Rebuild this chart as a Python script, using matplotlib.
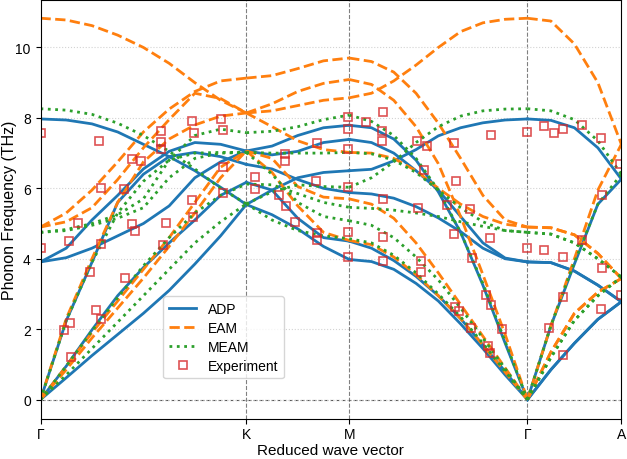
import numpy as np
import matplotlib
matplotlib.use('Agg')
import matplotlib.pyplot as plt

plt.rcParams['font.family'] = ['Liberation Sans', 'DejaVu Sans']

# path Γ-K-M-Γ-A (distance along path)
point_labels = ['Γ', 'K', 'M', 'Γ', 'A']
point_pos = [0.0, 0.6667, 1.0, 1.5774, 1.8816]

# ---- ADP (THz), one list of branches per path segment ----
adp_gk = [
    [0, 0.62, 1.25, 1.85, 2.45, 3.1, 3.85, 4.65, 5.54],
    [0, 0.95, 1.98, 2.95, 3.75, 4.45, 5.1, 5.8, 6.17],
    [0, 2.24, 3.9, 5.6, 6.4, 6.9, 7.02, 6.9, 6.68],
    [3.91, 4.03, 4.3, 4.65, 5.0, 5.5, 6.3, 6.75, 7.06],
    [3.91, 4.3, 5.1, 5.8, 6.55, 7.05, 7.3, 7.25, 7.06],
    [7.97, 7.94, 7.83, 7.6, 7.25, 6.9, 6.5, 6.03, 5.54],
]
adp_km = [
    [7.06, 7.2, 7.5, 7.72, 7.79],
    [7.06, 6.95, 7.05, 7.3, 7.39],
    [6.68, 6.55, 6.25, 6.0, 5.88],
    [5.54, 5.95, 6.3, 6.45, 6.5],
    [6.17, 5.95, 5.15, 4.6, 4.5],
    [5.54, 5.25, 4.85, 4.35, 3.98],
]
adp_mg = [
    [6.5, 6.54, 6.78, 7.1, 7.49, 7.72, 7.86, 7.94, 7.97],
    [7.79, 7.72, 7.4, 6.8, 5.9, 4.75, 3.25, 1.6, 0],
    [7.39, 7.3, 7.0, 6.5, 5.95, 5.2, 4.45, 4.02, 3.91],
    [5.88, 5.84, 5.72, 5.48, 5.16, 4.77, 4.3, 4.0, 3.91],
    [4.5, 4.3, 3.95, 3.5, 2.95, 2.3, 1.55, 0.8, 0],
    [3.98, 3.92, 3.7, 3.3, 2.8, 2.15, 1.45, 0.7, 0],
]
adp_ga = [
    [7.97, 7.93, 7.72, 7.15, 6.26],
    [3.91, 3.89, 3.65, 3.25, 2.78],
    [3.91, 3.89, 3.65, 3.25, 2.78],
    [0, 2.1, 3.85, 5.55, 6.26],
    [0, 0.85, 1.6, 2.28, 2.78],
    [0, 0.85, 1.6, 2.28, 2.78],
]

# ---- EAM ----
eam_gk = [
    [0, 0.85, 1.75, 2.6, 3.45, 4.35, 5.3, 6.3, 7.06],
    [0, 0.95, 1.9, 2.8, 3.7, 4.6, 5.6, 6.6, 7.06],
    [0, 2.3, 4.0, 5.6, 6.75, 7.4, 7.8, 8.05, 8.14],
    [4.9, 5.05, 5.45, 6.25, 7.15, 7.95, 8.7, 8.55, 8.14],
    [4.9, 5.3, 5.95, 6.75, 7.6, 8.25, 8.75, 9.05, 9.13],
    [10.83, 10.78, 10.62, 10.35, 10.0, 9.55, 9.0, 8.5, 8.14],
]
eam_km = [
    [9.13, 9.2, 9.4, 9.62, 9.7],
    [8.14, 8.4, 8.75, 8.98, 9.09],
    [8.14, 8.2, 8.35, 8.5, 8.57],
    [8.14, 7.75, 7.35, 7.1, 7.02],
    [7.06, 6.85, 6.05, 5.75, 5.7],
    [7.06, 6.45, 5.5, 4.75, 4.52],
]
eam_mg = [
    [8.57, 8.7, 9.05, 9.5, 10.0, 10.45, 10.7, 10.8, 10.83],
    [9.7, 9.6, 9.3, 8.7, 7.85, 6.85, 5.8, 5.1, 4.9],
    [9.09, 8.95, 8.5, 7.75, 6.7, 5.2, 3.55, 1.85, 0],
    [7.02, 7.0, 6.85, 6.5, 6.0, 5.55, 5.2, 4.98, 4.9],
    [5.7, 5.55, 5.15, 4.45, 3.6, 2.7, 1.8, 0.9, 0],
    [4.52, 4.4, 4.05, 3.55, 2.95, 2.3, 1.55, 0.78, 0],
]
eam_ga = [
    [10.83, 10.75, 10.1, 9.0, 7.25],
    [0, 2.1, 4.0, 5.95, 7.25],
    [4.9, 4.88, 4.68, 4.15, 3.44],
    [4.9, 4.88, 4.68, 4.15, 3.44],
    [0, 1.35, 2.45, 3.05, 3.44],
    [0, 1.35, 2.45, 3.05, 3.44],
]

# ---- MEAM ----
meam_gk = [
    [0, 0.7, 1.45, 2.2, 2.95, 3.7, 4.45, 5.05, 5.56],
    [0, 0.95, 1.95, 2.9, 3.8, 4.6, 5.3, 5.8, 6.12],
    [0, 2.24, 3.9, 5.3, 6.2, 6.8, 7.0, 7.02, 7.02],
    [4.75, 4.8, 4.95, 5.15, 5.45, 6.3, 6.85, 7.0, 7.02],
    [4.75, 4.83, 5.0, 5.25, 5.7, 6.8, 7.5, 7.68, 7.58],
    [8.26, 8.22, 8.1, 7.85, 7.5, 7.05, 6.55, 6.0, 5.56],
]
meam_km = [
    [7.58, 7.62, 7.75, 7.95, 8.08],
    [7.02, 7.0, 7.0, 7.0, 7.02],
    [7.02, 6.4, 5.6, 5.2, 5.08],
    [6.12, 6.1, 5.85, 5.6, 5.46],
    [5.56, 5.9, 6.1, 6.05, 6.03],
    [5.56, 5.1, 4.8, 4.65, 4.57],
]
meam_mg = [
    [6.03, 6.3, 6.75, 7.3, 7.75, 8.05, 8.2, 8.25, 8.26],
    [8.08, 7.9, 7.5, 6.85, 5.95, 4.75, 3.3, 1.65, 0],
    [7.02, 6.98, 6.8, 6.45, 5.95, 5.45, 5.05, 4.8, 4.75],
    [5.46, 5.43, 5.38, 5.3, 5.2, 5.05, 4.92, 4.8, 4.75],
    [5.08, 4.95, 4.6, 4.05, 3.4, 2.6, 1.75, 0.88, 0],
    [4.57, 4.45, 4.1, 3.6, 3.0, 2.35, 1.6, 0.8, 0],
]
meam_ga = [
    [8.26, 8.2, 7.95, 7.35, 6.4],
    [0, 2.1, 3.9, 5.55, 6.4],
    [4.75, 4.7, 4.45, 4.0, 3.48],
    [4.75, 4.7, 4.45, 4.0, 3.48],
    [0, 1.2, 2.25, 2.95, 3.48],
    [0, 1.2, 2.25, 2.95, 3.48],
]

# ---- experiment ----
exp_q = [0.0, 0.0, 0.075, 0.0945, 0.0997, 0.0923, 0.1214, 0.1593, 0.1813, 0.1969,
         0.1969, 0.1894, 0.1975, 0.2694, 0.2726, 0.2963, 0.3244, 0.2972, 0.3050, 0.3918,
         0.3918, 0.3918, 0.3967, 0.4080, 0.4915, 0.4961, 0.4922, 0.4938, 0.5861, 0.5926,
         0.5926, 0.5909,
         0.6937, 0.6959, 0.7911, 0.7911, 0.7726, 0.7966, 0.8236, 0.8961, 0.8918, 0.8941,
         0.8941, 0.997, 0.997, 0.997, 0.997, 0.997, 0.997,
         1.0532, 1.1103, 1.1071, 1.1071, 1.1103, 1.1084, 1.1084, 1.2206, 1.2530, 1.2414,
         1.2238, 1.2326, 1.2326, 1.3396, 1.3461, 1.3179, 1.3396, 1.3429, 1.3568, 1.3915,
         1.3990, 1.3948, 1.4587, 1.4565, 1.4435, 1.4587, 1.4510, 1.4565, 1.4945, 1.5774,
         1.5774,
         1.6324, 1.6648, 1.6920, 1.7534, 1.8159, 1.8774, 1.8182, 1.6324, 1.6939, 1.7553,
         1.8182, 1.8797, 1.6939, 1.6486, 1.6920, 1.8159]
exp_f = [7.57, 4.3, 1.98, 2.17, 1.21, 4.49, 5.02, 3.63, 2.54, 2.28,
         4.43, 7.34, 6.0, 5.98, 3.44, 6.84, 6.77, 4.99, 4.8, 7.63,
         7.32, 7.11, 4.4, 5.02, 7.91, 7.58, 5.67, 5.18, 7.96, 7.67,
         6.6, 5.86,
         6.31, 5.98, 6.97, 6.78, 5.82, 5.51, 5.04, 7.3, 6.21, 4.73,
         4.52, 8.02, 7.69, 7.11, 6.03, 4.75, 4.05,
         7.89, 8.17, 7.63, 7.33, 5.7, 4.63, 3.93, 7.33, 7.2, 6.52,
         5.45, 3.94, 3.61, 7.29, 6.2, 5.52, 4.69, 2.64, 2.53, 5.42,
         4.03, 2.02, 7.5, 4.6, 2.98, 2.68, 1.53, 1.32, 2.01, 7.6,
         4.31,
         7.76, 7.56, 7.69, 7.79, 7.42, 6.69, 5.82, 4.26, 4.05, 4.52,
         3.75, 2.98, 2.92, 2.02, 1.27, 2.56]

models = [
    ('ADP', 'tab:blue', '-', [adp_gk, adp_km, adp_mg, adp_ga]),
    ('EAM', 'tab:orange', '--', [eam_gk, eam_km, eam_mg, eam_ga]),
    ('MEAM', 'tab:green', ':', [meam_gk, meam_km, meam_mg, meam_ga]),
]

fig, ax = plt.subplots(figsize=(6.27, 4.6), dpi=100)
fig.subplots_adjust(left=0.0646, right=0.991, top=0.998, bottom=0.087)

for name, color, ls, segs in models:
    first = True
    for i, seg in enumerate(segs):
        for branch in seg:
            q = np.linspace(point_pos[i], point_pos[i + 1], len(branch))
            ax.plot(q, branch, color=color, linestyle=ls, linewidth=2,
                    label=name if first else None)
            first = False

ax.plot(exp_q, exp_f, 's', mfc='none', mec='tab:red', ms=6, mew=1.2,
        alpha=0.8, label='Experiment')

for p in point_pos[1:-1]:
    ax.axvline(p, color='gray', linestyle='--', linewidth=0.8, zorder=0)
ax.axhline(0, color='#555555', linestyle='--', linewidth=0.8, zorder=0)
ax.grid(axis='y', linestyle=':', color='lightgray', linewidth=0.8)

ax.set_xlim(point_pos[0], point_pos[-1])
ax.set_ylim(-0.55, 11.35)
ax.set_xticks(point_pos)
ax.set_xticklabels(point_labels, fontsize=10)
ax.tick_params(axis='x', pad=2)
ax.set_yticks([0, 2, 4, 6, 8, 10])
ax.tick_params(axis='y', labelsize=10)
ax.set_xlabel('Reduced wave vector', fontsize=11)
ax.set_ylabel('Phonon Frequency (THz)', fontsize=11.5)
ax.xaxis.set_label_coords(0.5, -0.0565)
ax.yaxis.set_label_coords(-0.040, 0.5)

ax.legend(loc='lower left', bbox_to_anchor=(0.211, 0.097), borderaxespad=0,
          fontsize=10, labelspacing=0.36)

fig.savefig('out.png', dpi=100)
